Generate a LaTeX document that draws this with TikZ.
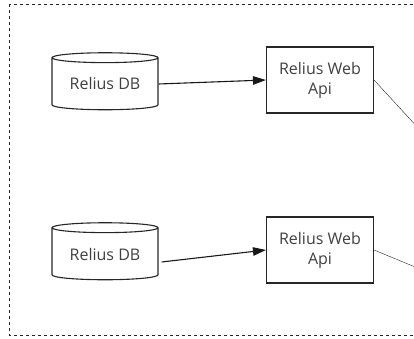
\documentclass[tikz,border=0pt]{standalone}
\usepackage{fontspec}
\setmainfont{Open Sans}
\usetikzlibrary{shapes.geometric,arrows.meta}
\begin{document}
\begin{tikzpicture}[x=1pt,y=-1pt]
\tikzset{every node/.style={font=\fontsize{16}{20}\selectfont,text=black!75,align=center}}
\tikzset{dbnode/.style={draw=black!85,line width=1.1pt,cylinder,shape border rotate=90,aspect=0.14,minimum width=106pt,minimum height=57pt,inner sep=0pt}}
\tikzset{apinode/.style={draw=black!85,line width=1.1pt,minimum width=107pt,minimum height=66pt,inner sep=0pt}}
\tikzset{link/.style={draw=black!90,line width=1.1pt,-{Triangle[length=13pt,width=8.5pt]}}}
\clip (0,0) rectangle (414,339);
\useasboundingbox (0,0) rectangle (414,339);
% frame, open to the right
\draw[black!85,dash pattern=on 3pt off 3pt] (9,4) rectangle (450,335);
% upper row
\node[dbnode] (db1) at (105,84) {Relius DB};
\node[apinode] (api1) at (320,80) {Relius Web\\Api};
\coordinate (out1) at (420,130);
% lower row
\node[dbnode] (db2) at (105,254) {Relius DB};
\node[apinode] (api2) at (320,250) {Relius Web\\Api};
\coordinate (out2) at (420,269);
%\draw[red] (0,0) grid[step=50] (414,339);
\draw[link] (db1.east) -- (api1.west);
\draw[link] ([xshift=3pt,yshift=-8pt]db2.east) -- (api2.west);
\draw[black!85] (api1.east) -- (out1);
\draw[black!85] (api2.east) -- (out2);
\end{tikzpicture}
\end{document}
